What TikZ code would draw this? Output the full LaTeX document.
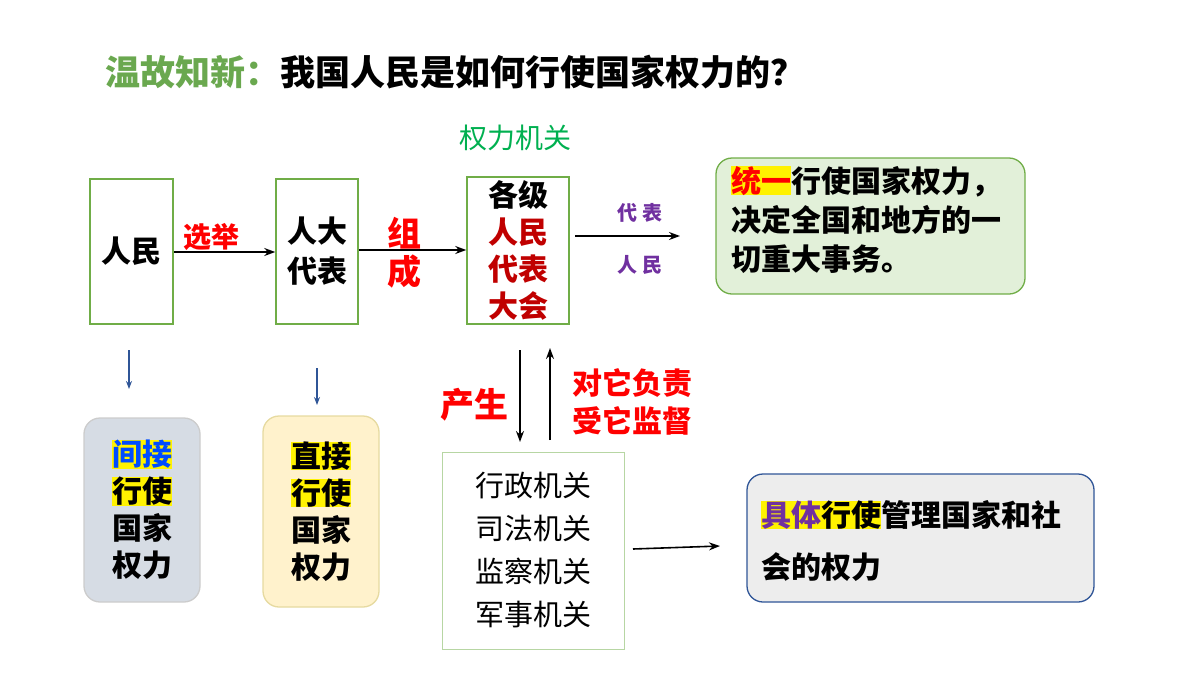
\documentclass[tikz,border=0pt]{standalone}
\usepackage{fontspec}
\setmainfont{Noto Sans CJK SC}
\usetikzlibrary{arrows.meta}
\definecolor{tgreen}{HTML}{6AA84F}
\definecolor{bgreen}{HTML}{70AD47}
\definecolor{dred}{HTML}{C00000}
\definecolor{pur}{HTML}{7030A0}
\definecolor{navy}{HTML}{2F5597}
\definecolor{lgreen}{HTML}{E2F0D9}
\definecolor{lblue}{HTML}{D6DCE4}
\definecolor{lyel}{HTML}{FFF2CC}
\definecolor{lyeld}{HTML}{E6DAA0}
\definecolor{lgray}{HTML}{EDEDED}
\newcommand{\hly}[1]{{\setlength{\fboxsep}{0pt}\colorbox{yellow}{#1}}}
\tikzset{
  sq/.style={draw=bgreen,line width=1.5pt,inner sep=0},
  rbox/.style={draw,rounded corners=16pt,line width=1.3pt,inner sep=0},
  txt/.style={font=\bfseries\fontsize{30}{40}\selectfont,align=center,inner sep=0},
  arr/.style={-{Stealth[length=11pt,width=8pt]},line width=1.6pt},
  redlab/.style={text=red,font=\bfseries\fontsize{30}{38}\selectfont,align=center,inner sep=0},
}
\begin{document}
\begin{tikzpicture}[x=1pt,y=-1pt]
\useasboundingbox (0,0) rectangle (1200,675);
\node[anchor=west,inner sep=0,font=\bfseries\fontsize{35}{38}\selectfont] (title) at (105,72) {\textcolor{tgreen}{温故知新：}我国人民是如何行使国家权力的？};
\node[text={rgb,255:red,0;green,176;blue,80},font=\fontsize{28}{30}\selectfont,inner sep=0] (qj) at (515,138) {权力机关};
% boxes
\node[sq,minimum width=83,minimum height=145] (rm) at (131.5,251.5) {};
\node[txt] at (rm.center) {人民};
\node[sq,minimum width=82,minimum height=145] (rd) at (317,251.5) {};
\node[txt] at (rd.center) {人大\\代表};
\node[sq,minimum width=102,minimum height=147] (dh) at (518,250.5) {};
\node[txt,font=\bfseries\fontsize{30}{37}\selectfont] at (dh.center) {各级\\\textcolor{dred}{人民}\\\textcolor{dred}{代表}\\\textcolor{dred}{大会}};
\coordinate (c1) at (680,236);
\draw[arr] (rm.east|-0,252) -- (rd.west|-0,252);
\node[redlab,font=\bfseries\fontsize{28}{30}\selectfont] at (211,237) {选举};
\draw[arr] (rd.east|-0,250) -- (dh.west|-0,250);
\node[redlab,font=\bfseries\fontsize{34}{38}\selectfont] at (404,253) {组\\成};
\draw[arr] (575,236) -- (c1);
\node[text=pur,font=\bfseries\fontsize{20}{22}\selectfont,inner sep=0] at (640,213) {代\;表};
\node[text=pur,font=\bfseries\fontsize{20}{22}\selectfont,inner sep=0] at (640,265) {人\;民};
\node[rbox,draw=bgreen,fill=lgreen,minimum width=309,minimum height=136] (g1) at (870.5,226) {};
\node[anchor=north west,align=left,inner sep=0,font=\bfseries\fontsize{30}{39}\selectfont] at (731,166) {\hly{\textcolor{red}{统一}}行使国家权力，\\决定全国和地方的一\\切重大事务。};
% small arrows
\coordinate (a1) at (129,350); \coordinate (a2) at (129,389);
\coordinate (b1) at (317,368); \coordinate (b2) at (317,405);
\draw[draw=navy,line width=1.5pt,-{Stealth[length=8pt,width=6pt]}] (a1) -- (a2);
\draw[draw=navy,line width=1.5pt,-{Stealth[length=8pt,width=6pt]}] (b1) -- (b2);
\node[rbox,draw=gray!40,fill=lblue,minimum width=116,minimum height=184] (jj) at (142,510) {};
\node[txt,font=\bfseries\fontsize{30}{37}\selectfont] at (jj.center) {\hly{\textcolor{blue!70!cyan}{间接}}\\\hly{行使}\\国家\\权力};
\node[rbox,draw=lyeld,fill=lyel,minimum width=116,minimum height=191] (zj) at (321,511.5) {};
\node[txt,font=\bfseries\fontsize{30}{37}\selectfont] at (zj.center) {\hly{直接}\\\hly{行使}\\国家\\权力};
% middle
\node[draw=bgreen!50,line width=1pt,minimum width=182,minimum height=197,inner sep=0] (xz) at (533,550.5) {};
\node[align=center,inner sep=0,font=\fontsize{29}{43}\selectfont] at (xz.center) {行政机关\\司法机关\\监察机关\\军事机关};
\draw[arr] (520,350) -- (520,442);
\draw[arr] (550,440) -- (550,348);
\node[redlab,font=\bfseries\fontsize{34}{38}\selectfont] at (474,405) {产生};
\node[redlab] at (632,402) {对它负责\\受它监督};
\node[rbox,draw=navy,fill=lgray,minimum width=347,minimum height=128] (jt) at (920.5,538) {};
\node[anchor=north west,align=left,inner sep=0,font=\bfseries\fontsize{30}{52}\selectfont] at (761,500) {\hly{\textcolor{pur}{具体}行使}管理国家和社\\会的权力};
\coordinate (d1) at (633,549); \coordinate (d2) at (720,546);
\draw[arr] (d1) -- (d2);
\end{tikzpicture}
\end{document}
